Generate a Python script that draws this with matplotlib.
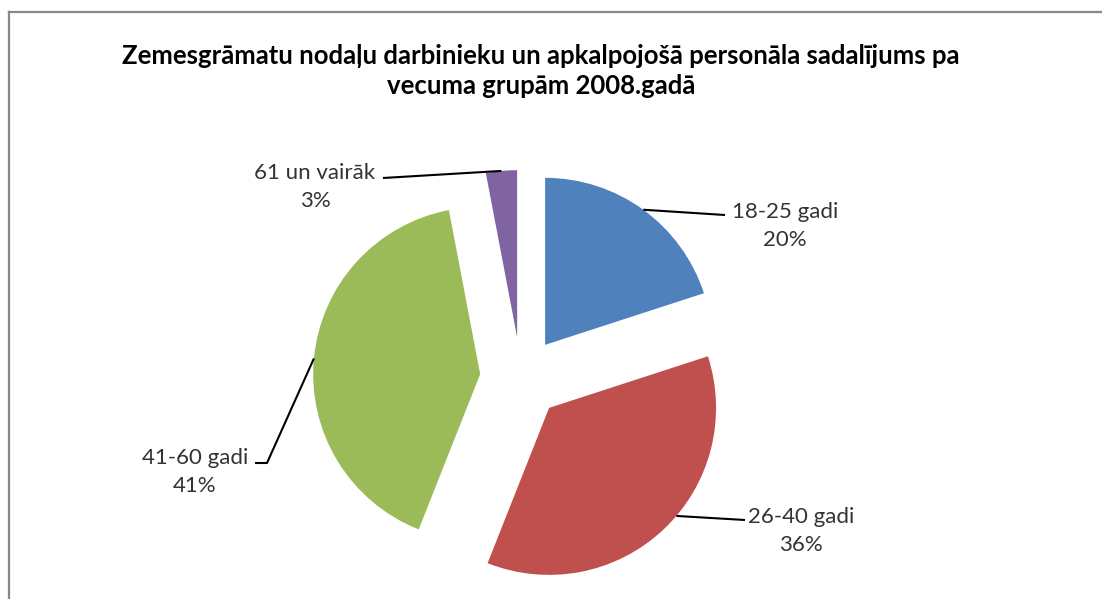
import numpy as np
import matplotlib
matplotlib.use('Agg')
from matplotlib import pyplot as plt
from matplotlib.lines import Line2D

plt.rcParams['font.family'] = ['Lato', 'DejaVu Sans']

# dati
labels = ['18-25 gadi', '26-40 gadi', '41-60 gadi', '61 un vairāk']
shares = [20, 36, 41, 3]
colors = ['#4F81BD', '#C0504D', '#9BBB59', '#8064A2']
title = 'Zemesgrāmatu nodaļu darbinieku un apkalpojošā personāla sadalījums pa\nvecuma grupām 2008.gadā'

W, H = 1102, 599
fig = plt.figure(figsize=(W / 100, H / 100), dpi=100)
ax = fig.add_axes([0, 0, 1, 1])

# pie centrs un rādiuss pikseļos (y uz augšu)
cx, cy = 521, H - 378
R = 167
expl = 41   # izbīde pikseļos

wedges, _ = ax.pie(shares, colors=colors, startangle=90, counterclock=False,
                   explode=[expl] * len(shares), radius=R, center=(cx, cy),
                   wedgeprops=dict(linewidth=0), frame=True)
ax.set_xlim(0, W)
ax.set_ylim(0, H)
ax.set_aspect('equal')
ax.axis('off')

# etiķešu novietojums (attēla koordinātēs) un līniju galapunkti
lab_pos = [(785, 226), (801, 531), (195, 472), (315, 187)]
line_end = [[(725, 215)], [(745, 520)], [(267, 463), (255, 463)], [(383, 178)]]
anchor_frac = [0.5, 0.45, 0.5, 0.5]   # kur uz loka sākas līnija

for i, w in enumerate(wedges):
    mid = np.deg2rad((w.theta1 + w.theta2) / 2)
    ang = np.deg2rad(w.theta2 - anchor_frac[i] * (w.theta2 - w.theta1))
    ox, oy = cx + expl * np.cos(mid), cy + expl * np.sin(mid)
    px, py = ox + R * np.cos(ang), oy + R * np.sin(ang)
    xs = [px] + [p[0] for p in line_end[i]]
    ys = [py] + [H - p[1] for p in line_end[i]]
    ax.plot(xs, ys, color='black', lw=1.5, solid_capstyle='butt')
    lx, ly = lab_pos[i]
    ax.text(lx, H - ly, '%s\n%d%%' % (labels[i], shares[i]), ha='center', va='center',
            fontsize=16, color='#333333', linespacing=1.5)

ax.text(541, H - 71, title, ha='center', va='center', fontsize=18.5,
        fontweight='bold', color='black', linespacing=1.3)

# rāmis (tikai augša un kreisā mala redzama)
fig.add_artist(Line2D([9 / W, 9 / W], [0, 1 - 12 / H], transform=fig.transFigure,
                      color='#888888', lw=1.6))
fig.add_artist(Line2D([9 / W, 1], [1 - 12 / H, 1 - 12 / H], transform=fig.transFigure,
                      color='#888888', lw=1.6))

plt.savefig('out.png', dpi=100)
